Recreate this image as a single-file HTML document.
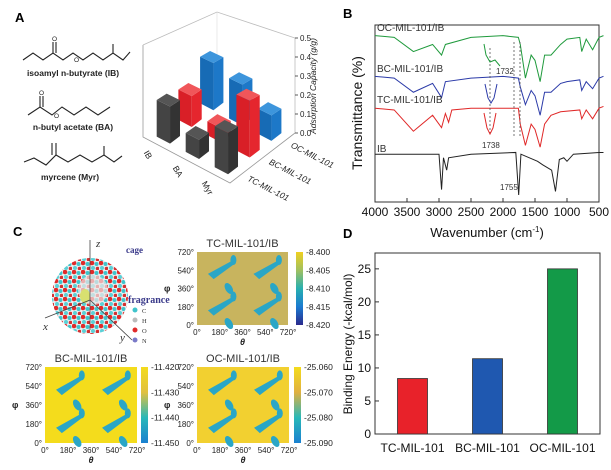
<!DOCTYPE html>
<html><head><meta charset="utf-8"><style>
body{margin:0;background:#fff}
svg{display:block;font-family:"Liberation Sans",sans-serif}
</style></head><body>
<svg id="fig" width="611" height="470" viewBox="0 0 611 470">
<g font-weight="bold" font-size="13">
<text x="15" y="22">A</text>
<text x="343" y="18">B</text>
<text x="13" y="236">C</text>
<text x="343" y="238">D</text>
</g>
<g stroke="#222" fill="none" stroke-width="1.1">
<polyline points="23,60 33,53 43,60 53,53 63,60 73,53 83,60 93,53 103,60 113,53 123,60 130,52"/>
<line x1="113" y1="53" x2="113" y2="44"/><line x1="53" y1="53" x2="53" y2="42"/><line x1="56" y1="53" x2="56" y2="42"/>
<polyline points="28,115 40,107 52,115 62,107 74,115 86,107 98,115 110,107"/>
<line x1="40" y1="107" x2="40" y2="96"/><line x1="43" y1="107" x2="43" y2="96"/>
<polyline points="24,162 34,158 46,165 56,155 68,162 80,155 92,162 104,155 114,162 122,156"/>
<line x1="56" y1="155" x2="56" y2="143"/><line x1="52" y1="155" x2="52" y2="143"/><line x1="104" y1="155" x2="104" y2="146"/>
</g>
<g font-size="6.5" fill="#222">
<text x="52" y="41">O</text><text x="74" y="62">O</text><text x="39" y="95">O</text><text x="54" y="118">O</text>
</g>
<g font-size="8.5" font-weight="bold" fill="#222" text-anchor="middle">
<text x="73" y="76">isoamyl n-butyrate (IB)</text>
<text x="73" y="130">n-butyl acetate (BA)</text>
<text x="70" y="180">myrcene (Myr)</text>
</g>
<g id="a3d"></g>
<g id="ftir"></g>
<g id="pc"></g>
<g id="bar"></g>
</svg>
<script>
const NS="http://www.w3.org/2000/svg";
function mk(p,t,a,txt){const e=document.createElementNS(NS,t);for(const k in a)e.setAttribute(k,a[k]);if(txt!==undefined)e.textContent=txt;p.appendChild(e);return e;}

// ---------- Panel A: 3D adsorption ----------
const aRows=["IB","BA","Myr"];
const aCols=["TC-MIL-101","BC-MIL-101","OC-MIL-101"];
const aTC=[0.20,0.10,0.21];
const aBC=[0.18,0.08,0.31];
const aOC=[0.30,0.25,0.15];
const aTicks=[0.0,0.1,0.2,0.3,0.4,0.5];
const a3=document.getElementById('a3d');
const O={x:143,y:137},U={x:29,y:15.3},V={x:21.7,y:-16.7};
function ZS(r,c){return 185-14*c+6*r;}
function P(r,c,z){return [O.x+U.x*r+V.x*c, O.y+U.y*r+V.y*c-z*ZS(r,c)];}
function pts(a){return a.map(p=>p.join(',')).join(' ');}
let g=a3;
mk(g,'polyline',{points:'143,45 143,137 230,183 295,133',fill:'none',stroke:'#999','stroke-width':0.8});
mk(g,'polyline',{points:'143,45 217,12 295,38 295,133',fill:'none',stroke:'#bbb','stroke-width':0.8});
mk(g,'polyline',{points:'217,12 217,87',fill:'none',stroke:'#ddd','stroke-width':0.6});
aTicks.forEach(t=>{const y=133-t*190;
 mk(g,'line',{x1:295,y1:y,x2:298,y2:y,stroke:'#333','stroke-width':0.8});
 const e=mk(g,'text',{x:300,y:y+3,'font-size':8,fill:'#222'},t.toFixed(1));
 });
const zt=mk(g,'text',{transform:'translate(316,86) rotate(-90)','font-size':8.5,'font-style':'italic','text-anchor':'middle',fill:'#222'},'Adsorption Capacity (g/g)');

aRows.forEach((n,i)=>{const p=P(i+0.5,0,0);
 const e=mk(g,'text',{transform:`translate(${p[0]-14},${p[1]+8}) rotate(60)`,'font-size':8.5,fill:'#222'},n);
 });
aCols.forEach((n,i)=>{const p=P(3,i+0.5,0);
 const e=mk(g,'text',{transform:`translate(${p[0]+6},${p[1]+6}) rotate(27)`,'font-size':8.5,'font-style':'italic',fill:'#222'},n);
 });
const aSeries=[aTC,aBC,aOC];
const aCol=[["#555","#333","#444"],["#f0565a","#e5262e","#d91f27"],["#3d95dc","#1d78c8","#176bb5"]];
let bars=[];
aSeries.forEach((s,c)=>s.forEach((v,r)=>bars.push({r,c,v})));
bars.sort((a,b)=>(a.r-a.c)-(b.r-b.c));
bars.forEach(b=>{const r0=b.r+0.27,r1=b.r+0.73,c0=b.c+0.27,c1=b.c+0.73,v=b.v,cl=aCol[b.c];
 const bg=mk(g,'g',{});
 
 
 mk(bg,'polygon',{points:pts([P(r1,c0,0),P(r1,c1,0),P(r1,c1,v),P(r1,c0,v)]),fill:cl[1]});
 mk(bg,'polygon',{points:pts([P(r0,c0,0),P(r1,c0,0),P(r1,c0,v),P(r0,c0,v)]),fill:cl[2]});
 mk(bg,'polygon',{points:pts([P(r0,c0,v),P(r1,c0,v),P(r1,c1,v),P(r0,c1,v)]),fill:cl[0]});
});

// ---------- Panel B: FTIR ----------
const fTicks=[4000,3500,3000,2500,2000,1500,1000,500];
const sOC=[[4000,94],[3700,93],[3400,85],[3100,89],[2960,83],[2900,89],[2500,93],[2000,94],[1760,93],[1730,89],[1650,70],[1560,83],[1500,80],[1420,68],[1350,83],[1250,83],[1100,89],[1000,92],[800,93],[770,85],[700,92],[600,86],[500,93],[430,94]];
const sBC=[[4000,71],[3700,70],[3400,62],[3100,67],[2960,59],[2900,68],[2500,70],[2000,71],[1760,70],[1730,65],[1650,55],[1560,63],[1500,60],[1420,49],[1350,62],[1250,62],[1100,67],[1000,68],[800,69],[770,63],[700,68],[600,64],[500,70],[430,71]];
const sTC=[[4000,53],[3700,52],[3400,40],[3100,49],[2960,42],[2900,50],[2850,45],[2800,52],[2500,53],[1760,53],[1730,44],[1650,32],[1560,44],[1500,41],[1420,31],[1350,44],[1250,49],[1100,51],[800,52],[770,47],[700,52],[600,47],[500,53],[430,54]];
const sIB=[[4000,27],[3000,27],[2960,7],[2930,25],[2880,18],[2850,25],[2500,27],[1800,28],[1755,4],[1720,27],[1460,23],[1380,21],[1240,18],[1180,6],[1120,24],[1050,25],[1000,23],[900,27],[500,28],[430,28]];
const ftir=document.getElementById('ftir');
const bx0=375,bx1=599,by0=25,by1=202;
const fx=w=>bx0+(4000-w)*(bx1-bx0)/3500;
const fy=t=>by1-t*(by1-by0)/100;
mk(ftir,'rect',{x:bx0,y:by0,width:bx1-bx0,height:by1-by0,fill:'none',stroke:'#333','stroke-width':1});
fTicks.forEach(t=>{mk(ftir,'line',{x1:fx(t),y1:by1,x2:fx(t),y2:by1-4,stroke:'#333'});
 const e=mk(ftir,'text',{x:fx(t),y:by1+14,'font-size':12,'text-anchor':'middle',fill:'#111'},t);
 });
let e=mk(ftir,'text',{x:487,y:237,'font-size':13,'text-anchor':'middle',fill:'#111'},'Wavenumber (cm');
mk(e,'tspan',{'font-size':8,dy:-5},'-1');mk(e,'tspan',{dy:5},')');

e=mk(ftir,'text',{transform:'translate(362,113) rotate(-90)','font-size':14,'text-anchor':'middle',fill:'#111'},'Transmittance (%)');

[[sOC,'#1f9a3c','OC-MIL-101/IB',33],[sBC,'#2b3aa8','BC-MIL-101/IB',74],[sTC,'#e02828','TC-MIL-101/IB',105],[sIB,'#222','IB',154]].forEach(([s,c,n,ly])=>{
 const l=mk(ftir,'polyline',{points:s.map(p=>fx(p[0])+','+fy(p[1])).join(' '),fill:'none',stroke:c,'stroke-width':1});
 
 const t=mk(ftir,'text',{x:377,y:ly-2,'font-size':10,fill:'#333'},n);
 });
mk(ftir,'line',{x1:514,y1:42,x2:514,y2:138,stroke:'#555','stroke-dasharray':'2,2','stroke-width':0.8});
mk(ftir,'line',{x1:520,y1:42,x2:520,y2:138,stroke:'#555','stroke-dasharray':'2,2','stroke-width':0.8});
mk(ftir,'line',{x1:490,y1:48,x2:490,y2:136,stroke:'#555','stroke-dasharray':'2,2','stroke-width':0.8});
mk(ftir,'polyline',{points:'484,44 486,55 490,62 495,60 500,66',fill:'none',stroke:'#1f9a3c'});
mk(ftir,'polyline',{points:'485,84 488,98 491,103 494,98 497,84',fill:'none',stroke:'#2b3aa8'});
mk(ftir,'polyline',{points:'484,113 487,128 490,134 493,128 496,113',fill:'none',stroke:'#e02828'});
[['1732',496,74],['1738',482,148],['1755',500,190]].forEach(([t,x,y])=>{const q=mk(ftir,'text',{x,y,'font-size':8,fill:'#333'},t);
 });

// ---------- Panel C: molecule + maps ----------
const pc=document.getElementById('pc');
const defs=mk(pc,'defs',{});
const pat=mk(defs,'pattern',{id:'atoms',width:9,height:9,patternUnits:'userSpaceOnUse'});
mk(pat,'rect',{width:9,height:9,fill:'#e8eef0'});
mk(pat,'circle',{cx:2,cy:2,r:2.3,fill:'#e02a2a'});mk(pat,'circle',{cx:6.5,cy:3,r:2,fill:'#3fc4cc'});
mk(pat,'circle',{cx:3,cy:7,r:2,fill:'#5ad0d6'});mk(pat,'circle',{cx:7.5,cy:7.5,r:1.8,fill:'#d23030'});
mk(pc,'circle',{cx:90,cy:296,r:38,fill:'url(#atoms)',});
mk(pc,'circle',{cx:93,cy:290,r:15,fill:'#f0e6e6',opacity:0.7});
mk(pc,'ellipse',{cx:85,cy:296,rx:5,ry:7,fill:'#d8e070'});
[[90,240,90,330],[90,300,45,318],[90,300,132,340]].forEach(l=>mk(pc,'line',{x1:l[0],y1:l[1],x2:l[2],y2:l[3],stroke:'#444','stroke-width':0.8}));
[['z',96,247,11],['x',43,330,11],['y',120,341,11]].forEach(([t,x,y,s])=>mk(pc,'text',{x,y,'font-size':s,'font-style':'italic','font-family':'Liberation Serif',fill:'#333'},t));
mk(pc,'text',{x:126,y:253,'font-size':9,'font-family':'Liberation Serif','font-weight':'bold',fill:'#3a3a8a'},'cage');
mk(pc,'text',{x:128,y:303,'font-size':10,'font-family':'Liberation Serif','font-weight':'bold',fill:'#3a3a8a'},'fragrance');
[['C','#3fc4cc',313],['H','#bbb',323],['O','#e02a2a',333],['N','#7a7ac8',343]].forEach(([t,c,y])=>{mk(pc,'circle',{cx:135,cy:y-3,r:2.5,fill:c});mk(pc,'text',{x:142,y,'font-size':6.5,'font-family':'Liberation Serif',fill:'#333'},t);});
const mapTicks=["0°","180°","360°","540°","720°"];
const blobs=[[0.12,0.7,0.45],[0.62,0.7,0.45],[0.12,0.2,0.45],[0.62,0.2,0.45],[0.35,0.5,0.2],[0.85,0.5,0.2],[0.35,0.02,0.2],[0.85,0.02,0.2]];
function heat(x,y,w,h,bg,title,cb,labels,cbx){
 const gg=mk(pc,'g',{});
 mk(gg,'rect',{x,y,width:w,height:h,fill:bg});
 blobs.forEach(b=>{const bx=x+b[0]*w,byy=y+(1-b[1])*h;
  if(b[2]>0.3){mk(gg,'path',{d:`M${bx} ${byy} l${w*0.25} ${-h*0.17} l3 3 l${-w*0.22} ${h*0.2} z`,fill:'#2aa6c6'});
   mk(gg,'ellipse',{cx:bx+w*0.28,cy:byy-h*0.19,rx:3,ry:5,fill:'#2aa6c6'});}
  else mk(gg,'ellipse',{cx:bx,cy:byy,rx:3.5,ry:6,fill:'#2aa6c6',transform:`rotate(-30 ${bx} ${byy})`});});
 mk(gg,'text',{x:x+w/2,y:y-5,'font-size':11,'text-anchor':'middle',fill:'#333'},title);
 mapTicks.forEach((t,i)=>{mk(gg,'text',{x:x+i*w/4,y:y+h+10,'font-size':8,'text-anchor':'middle',fill:'#222'},t);
  mk(gg,'text',{x:x-3,y:y+h-i*h/4+3,'font-size':8,'text-anchor':'end',fill:'#222'},t);});
 mk(gg,'text',{x:x+w/2,y:y+h+20,'font-size':9,'font-style':'italic','font-weight':'bold','text-anchor':'middle',fill:'#222'},'θ');
 mk(gg,'text',{x:x-33,y:y+h/2+3,'font-size':9,'font-weight':'bold',fill:'#222'},'φ');
 const gid='cb'+cbx;const lg=mk(defs,'linearGradient',{id:gid,x1:0,y1:1,x2:0,y2:0});
 cb.forEach((c,i)=>mk(lg,'stop',{offset:i/(cb.length-1),'stop-color':c}));
 mk(gg,'rect',{x:cbx,y,width:7,height:h,fill:`url(#${gid})`});
 labels.forEach((t,i)=>mk(gg,'text',{x:cbx+10,y:y+i*h/(labels.length-1)+3,'font-size':8.5,fill:'#222'},t));
}
heat(197,252,91,73,'#c8b45e','TC-MIL-101/IB',['#2a2a8c','#1a7ad0','#28b0b0','#a0c060','#f0d020'],['-8.400','-8.405','-8.410','-8.415','-8.420'],296);
heat(45,367,92,76,'#f4dc1c','BC-MIL-101/IB',['#1a80d0','#28b8b8','#e0c040','#f4dc1c'],['-11.420','-11.430','-11.440','-11.450'],141);
heat(197,367,92,76,'#f2d030','OC-MIL-101/IB',['#1a80d0','#28b8b8','#e0b040','#f4dc1c'],['-25.060','-25.070','-25.080','-25.090'],294);

// ---------- Panel D: binding energy ----------
const dCats=["TC-MIL-101","BC-MIL-101","OC-MIL-101"];
const dVals=[8.4,11.4,25.0];
const dTicks=[0,5,10,15,20,25];
const dColors=["#e8222a","#1f58b0","#139a48"];
const bar=document.getElementById('bar');
const dx0=375,dx1=600,dy0=253,dy1=434;
const ys=v=>dy1-v*(dy1-dy0)/27.4;
const xs=i=>dx0+(i+0.5)*(dx1-dx0)/3;
mk(bar,'rect',{x:dx0,y:dy0,width:dx1-dx0,height:dy1-dy0,fill:'none',stroke:'#333','stroke-width':1});
dTicks.forEach(t=>{mk(bar,'line',{x1:dx0,y1:ys(t),x2:dx0+4,y2:ys(t),stroke:'#333'});
 const q=mk(bar,'text',{x:dx0-4,y:ys(t)+4,'font-size':12,'text-anchor':'end',fill:'#111'},t);
 });
dVals.forEach((v,i)=>{const r=mk(bar,'rect',{x:xs(i)-15,y:ys(v),width:30,height:dy1-ys(v),fill:dColors[i],stroke:'#333','stroke-width':0.8});
 
 const q=mk(bar,'text',{x:xs(i),y:452,'font-size':12,'text-anchor':'middle',fill:'#111'},dCats[i]);
 });
e=mk(bar,'text',{transform:'translate(352,344) rotate(-90)','font-size':12,'text-anchor':'middle',fill:'#111'},'Binding Energy (-kcal/mol)');

</script>
</body></html>
